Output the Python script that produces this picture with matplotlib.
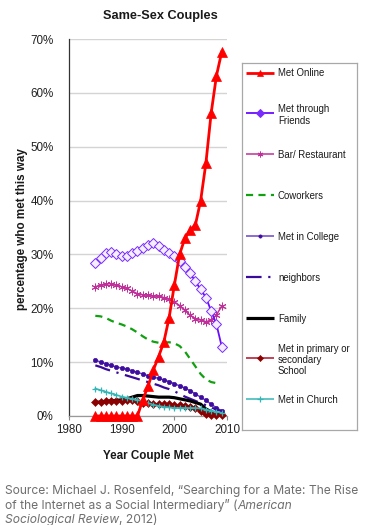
import numpy as np
import matplotlib
matplotlib.use("Agg")
import matplotlib.pyplot as plt

# ---------------- data ----------------
years = list(range(1985, 2010))

met_online = [0, 0, 0, 0, 0, 0, 0, 0, 0,
              3.0, 5.5, 8.5, 11.0, 13.7, 18.2, 24.3, 30.0, 33.0, 34.5, 35.5,
              40.0, 47.0, 56.3, 63.2, 67.6]
met_friends = [28.5, 29.3, 30.2, 30.4, 30.0, 29.7, 29.7, 30.2, 30.6, 31.2,
               31.8, 32.1, 31.5, 30.8, 30.3, 29.8, 28.8, 27.6, 26.5, 25.0,
               23.5, 22.0, 19.5, 17.0, 12.9]
bar_restaurant = [24.0, 24.3, 24.5, 24.6, 24.3, 24.0, 23.7, 23.2, 22.7, 22.5,
                  22.4, 22.3, 22.2, 22.0, 21.7, 21.2, 20.5, 19.6, 18.7, 18.1,
                  17.8, 17.5, 17.8, 18.8, 20.4]
coworkers = [18.6, 18.5, 18.2, 17.7, 17.3, 17.0, 16.6, 16.1, 15.5, 14.8,
             14.2, 13.8, 13.6, 13.6, 13.7, 13.5, 13.0, 12.0, 10.6, 9.2,
             7.8, 6.8, 6.3, 6.1, np.nan]
met_college = [10.4, 10.0, 9.7, 9.4, 9.1, 8.9, 8.7, 8.4, 8.1, 7.8,
               7.5, 7.2, 7.0, 6.7, 6.4, 6.0, 5.6, 5.2, 4.7, 4.1,
               3.5, 2.9, 2.2, 1.5, 1.0]
neighbors = [9.4, 9.1, 8.7, 8.4, 8.1, 7.8, 7.5, 7.2, 6.9, 6.6,
             6.3, 6.0, 5.7, 5.3, 5.0, 4.6, 4.1, 3.6, 3.2, 2.8,
             2.4, 2.0, 1.6, 1.2, 0.9]
family = [2.5, 2.6, 2.7, 2.8, 2.9, 3.0, 3.2, 3.5, 3.8, 3.8,
          3.7, 3.6, 3.5, 3.5, 3.5, 3.4, 3.2, 3.0, 2.8, 2.5,
          2.2, 1.3, 0.8, 0.4, 0.2]
met_school = [2.6, 2.6, 2.7, 2.7, 2.8, 2.8, 2.9, 2.9, 2.7, 2.5,
              2.4, 2.3, 2.2, 2.2, 2.2, 2.1, 2.0, 1.9, 1.7, 1.4,
              0.9, 0.4, 0.1, 0.1, 0.1]
met_church = [5.1, 4.8, 4.5, 4.2, 3.9, 3.6, 3.4, 3.2, 3.0, 2.7,
              2.4, 2.1, 1.9, 1.7, 1.6, 1.5, 1.5, 1.5, 1.5, 1.5,
              1.4, 1.2, 1.0, 0.8, 0.6]

series_labels = ["Met Online", "Met through\nFriends", "Bar/ Restaurant",
                 "Coworkers", "Met in College", "neighbors", "Family",
                 "Met in primary or\nsecondary\nSchool", "Met in Church"]
series_values = [met_online, met_friends, bar_restaurant, coworkers,
                 met_college, neighbors, family, met_school, met_church]

y_ticks = [0, 10, 20, 30, 40, 50, 60, 70]
x_ticks = [1980, 1990, 2000, 2010]

title = "Same-Sex Couples"
x_label = "Year Couple Met"
y_label = "percentage who met this way"
source_line1 = "Source: Michael J. Rosenfeld, \u201cSearching for a Mate: The Rise"
source_line2 = "of the Internet as a Social Intermediary\u201d ("
source_italic2 = "American"
source_italic3 = "Sociological Review"
source_tail3 = ", 2012)"

# ---------------- styles ----------------
styles = [
    dict(color="#FF0000", lw=2.0, ls="-", marker="^", ms=6.5, mfc="#FF0000", mec="#FF0000", mew=0.5, zorder=10, lmfc="#FF0000"),
    dict(color="#6A0DFF", lw=1.3, ls="-", marker="D", ms=5.0, mfc="#F4EEFF", mec="#7A2CFF", mew=0.7, zorder=6, lmfc="#7A2CFF"),
    dict(color="#C0309A", lw=1.1, ls="-", marker=(6, 2, 0), ms=5.5, mfc="#C0309A", mec="#C0309A", mew=0.7, zorder=5, lmfc="#C0309A"),
    dict(color="#10A010", lw=1.6, ls=(0, (3.2, 2.4)), marker=None, ms=0, mfc="none", mec="none", mew=0, zorder=4, lmfc="none"),
    dict(color="#6E44C8", lw=1.1, ls="-", marker="o", ms=3.2, mfc="#3E0C9E", mec="#3E0C9E", mew=0.4, zorder=5, lmfc="#3E0C9E"),
    dict(color="#3A0A9A", lw=1.6, ls=(0, (7, 3, 1, 3)), marker=None, ms=0, mfc="none", mec="none", mew=0, zorder=5, lmfc="none"),
    dict(color="#000000", lw=2.3, ls="-", marker=None, ms=0, mfc="none", mec="none", mew=0, zorder=5, lmfc="none"),
    dict(color="#B0102A", lw=1.1, ls="-", marker="D", ms=4.2, mfc="#8B0000", mec="#8B0000", mew=0.4, zorder=5, lmfc="#8B0000"),
    dict(color="#35B5B5", lw=1.1, ls="-", marker="+", ms=5.0, mfc="#35B5B5", mec="#35B5B5", mew=0.9, zorder=5, lmfc="#35B5B5"),
]

plt.rcParams["font.family"] = ["Liberation Sans", "DejaVu Sans"]

W, H = 372, 525
fig = plt.figure(figsize=(W / 100, H / 100), dpi=100)
fig.patch.set_facecolor("white")

# main axes
ax = fig.add_axes([69 / W, (H - 416) / H, 158 / W, 377 / H])
for vals, st in zip(series_values, styles):
    ax.plot(years, vals, color=st["color"], lw=st["lw"], ls=st["ls"],
            marker=st["marker"], ms=st["ms"], mfc=st["mfc"], mec=st["mec"],
            mew=st["mew"], zorder=st["zorder"], clip_on=False)

ax.set_xlim(1980, 2010)
ax.set_ylim(0, 70)
ax.set_yticks(y_ticks)
ax.set_yticklabels([f"{v}%" for v in y_ticks], fontsize=8.4, color="#222222")
ax.set_xticks(x_ticks)
ax.set_xticklabels([str(v) for v in x_ticks], fontsize=8.4, color="#222222")
ax.tick_params(axis="y", length=0, pad=11)
ax.tick_params(axis="x", length=3, width=0.8, color="#888888", pad=3, direction="out")
ax.grid(axis="y", color="#D4D4D4", lw=1.0)
ax.set_axisbelow(True)
for s in ["top", "right"]:
    ax.spines[s].set_visible(False)
ax.spines["left"].set_color("#333333")
ax.spines["left"].set_linewidth(0.9)
ax.spines["bottom"].set_color("#999999")
ax.spines["bottom"].set_linewidth(0.9)
ax.set_facecolor("none")

fig.text(160 / W, 1 - 16 / H, title, ha="center", va="center",
         fontsize=9.2, fontweight="bold", color="#1a1a1a")
fig.text(148 / W, 1 - 456 / H, x_label, ha="center", va="center",
         fontsize=8.4, fontweight="bold", color="#1a1a1a")
fig.text(22 / W, 1 - 229 / H, y_label, ha="center", va="center",
         rotation=90, fontsize=8.4, fontweight="bold", color="#1a1a1a")

# legend box (custom, Excel-like even spacing)
lx0, ly0, lw_, lh_ = 242, 63, 115, 367
lax = fig.add_axes([lx0 / W, (H - ly0 - lh_) / H, lw_ / W, lh_ / H])
lax.set_xlim(0, lw_)
lax.set_ylim(lh_, 0)
lax.set_xticks([])
lax.set_yticks([])
for s in lax.spines.values():
    s.set_color("#A8A8A8")
    s.set_linewidth(0.9)
for i, (lab, st) in enumerate(zip(series_labels, styles)):
    yy = 9.5 + 40.85 * i
    lax.plot([4, 32], [yy, yy], color=st["color"], lw=st["lw"], ls=st["ls"],
             solid_capstyle="butt")
    if st["marker"] is not None:
        lax.plot([18], [yy], marker=st["marker"], ms=st["ms"] * 0.75,
                 mfc=st["lmfc"], mec=st["mec"], mew=st["mew"], ls="none")
    lax.text(36, yy, lab, ha="left", va="center_baseline", fontsize=6.9,
             color="#1a1a1a", linespacing=1.15)

# footer source note
grey = "#6f6f6f"
fs = 8.7
fam = ["Inter", "DejaVu Sans"]
fig.text(5 / W, 1 - 491 / H, source_line1, ha="left", va="center",
         fontsize=fs, color=grey, family=fam)
t2 = fig.text(5 / W, 1 - 505.5 / H, source_line2, ha="left", va="center",
              fontsize=fs, color=grey, family=fam)
t3 = fig.text(5 / W, 1 - 520 / H, source_italic3, ha="left", va="center",
              fontsize=fs, color=grey, family=fam, style="italic")
fig.text(0, 0, "", fontsize=fs)
ax.annotate(source_italic2, xy=(1, 0), xycoords=t2, ha="left", va="bottom",
            fontsize=fs, color=grey, family=fam, style="italic",
            annotation_clip=False)
ax.annotate(source_tail3, xy=(1, 0), xycoords=t3, ha="left", va="bottom",
            fontsize=fs, color=grey, family=fam, annotation_clip=False)

fig.savefig("out.png", dpi=100, facecolor="white")
